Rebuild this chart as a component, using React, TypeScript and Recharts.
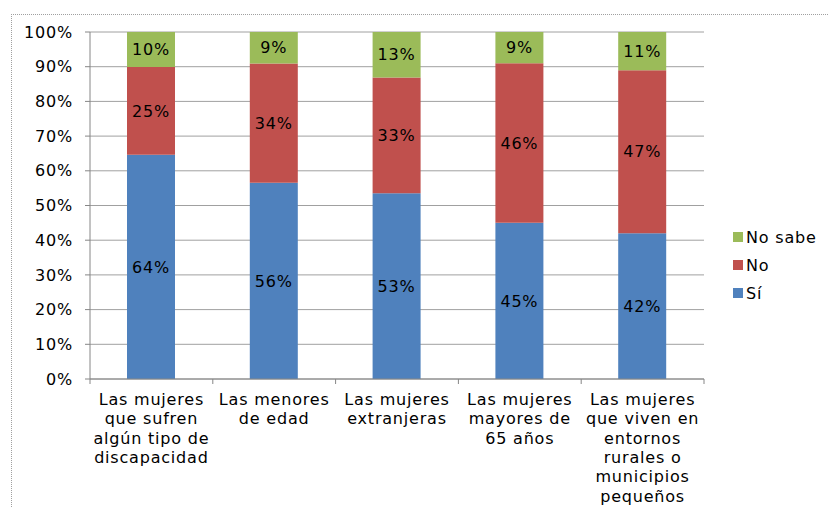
import React from "react";
import { BarChart, Bar, XAxis, YAxis, CartesianGrid, Legend, LabelList } from "recharts";

// categories (line breaks as in the original axis labels)
const categories = [
  "Las mujeres\nque sufren\nalgún tipo de\ndiscapacidad",
  "Las menores\nde edad",
  "Las mujeres\nextranjeras",
  "Las mujeres\nmayores de\n65 años",
  "Las mujeres\nque viven en\nentornos\nrurales o\nmunicipios\npequeños",
];
const si = [64, 56, 53, 45, 42];
const no = [25, 34, 33, 46, 47];
const noSabe = [10, 9, 13, 9, 11];
const yTicks = [0, 0.1, 0.2, 0.3, 0.4, 0.5, 0.6, 0.7, 0.8, 0.9, 1];

const series = [
  { key: "si", name: "Sí", color: "#4F81BD" },
  { key: "no", name: "No", color: "#C0504D" },
  { key: "noSabe", name: "No sabe", color: "#9BBB59" },
];

const data = categories.map((c, i) => ({ cat: c, si: si[i], no: no[i], noSabe: noSabe[i] }));

const FONT = "'DejaVu Sans', Arial, sans-serif";
const FS = 16;
const LS = 0.8;
const W = 829;
const H = 507;
const PLOT_LEFT = 90;
const PLOT_RIGHT = 704;
const BAND = (PLOT_RIGHT - PLOT_LEFT) / categories.length;

const XTick = (props: any) => {
  const { x, y, payload, index } = props;
  const lines = String(payload.value).split("\n");
  return (
    <g>
      <line x1={x - BAND / 2} x2={x - BAND / 2} y1={y} y2={y + 5} stroke="#868686" />
      {index === categories.length - 1 && (
        <line x1={x + BAND / 2} x2={x + BAND / 2} y1={y} y2={y + 5} stroke="#868686" />
      )}
      <text
        x={x}
        y={y}
        textAnchor="middle"
        fontSize={FS}
        fontFamily={FONT}
        fill="#000"
        style={{ letterSpacing: LS }}
      >
        {lines.map((l, i) => (
          <tspan key={i} x={x} dy={i === 0 ? 26 : 19.3}>
            {l}
          </tspan>
        ))}
      </text>
    </g>
  );
};

const LegendBox = () => (
  <div style={{ fontFamily: FONT, fontSize: FS, color: "#000", letterSpacing: LS }}>
    {[...series].reverse().map((s) => (
      <div key={s.key} style={{ display: "flex", alignItems: "center", height: 28 }}>
        <span style={{ width: 10, height: 10, background: s.color, marginRight: 3, display: "inline-block" }} />
        <span>{s.name}</span>
      </div>
    ))}
  </div>
);

export default function App() {
  return (
    <div style={{ position: "absolute", left: 0, top: 0, width: W, height: H, background: "#fff", overflow: "hidden" }}>
      <div
        style={{
          position: "absolute",
          left: 11,
          top: 14,
          width: W,
          height: H,
          border: "1px dotted #a0a0a0",
        }}
      />
      <BarChart
        width={W}
        height={H}
        data={data}
        stackOffset="expand"
        margin={{ top: 32, right: 30, left: 0, bottom: 0 }}
        barSize={48}
      >
        <CartesianGrid vertical={false} stroke="#a0a0a0" />
        <XAxis
          dataKey="cat"
          height={128}
          axisLine={{ stroke: "#868686" }}
          tickLine={false}
          tickSize={0}
          tickMargin={0}
          interval={0}
          tick={<XTick />}
        />
        <YAxis
          width={90}
          domain={[0, 1]}
          ticks={yTicks}
          tickFormatter={(v: number) => `${Math.round(v * 100)}%`}
          axisLine={{ stroke: "#868686" }}
          tickLine={{ stroke: "#868686" }}
          tickSize={5}
          tickMargin={12}
          tick={{ fontSize: FS, fontFamily: FONT, fill: "#000", style: { letterSpacing: LS } }}
        />
        <Legend
          layout="vertical"
          align="right"
          verticalAlign="middle"
          content={<LegendBox />}
          wrapperStyle={{ width: 95, left: 733, top: 223 }}
        />
        {series.map((s) => (
          <Bar key={s.key} dataKey={s.key} name={s.name} stackId="a" fill={s.color} isAnimationActive={false}>
            <LabelList
              dataKey={s.key}
              position="center"
              formatter={(v: any) => `${v}%`}
              style={{ fontSize: FS, fontFamily: FONT, fill: "#000", letterSpacing: LS }}
            />
          </Bar>
        ))}
      </BarChart>
    </div>
  );
}
